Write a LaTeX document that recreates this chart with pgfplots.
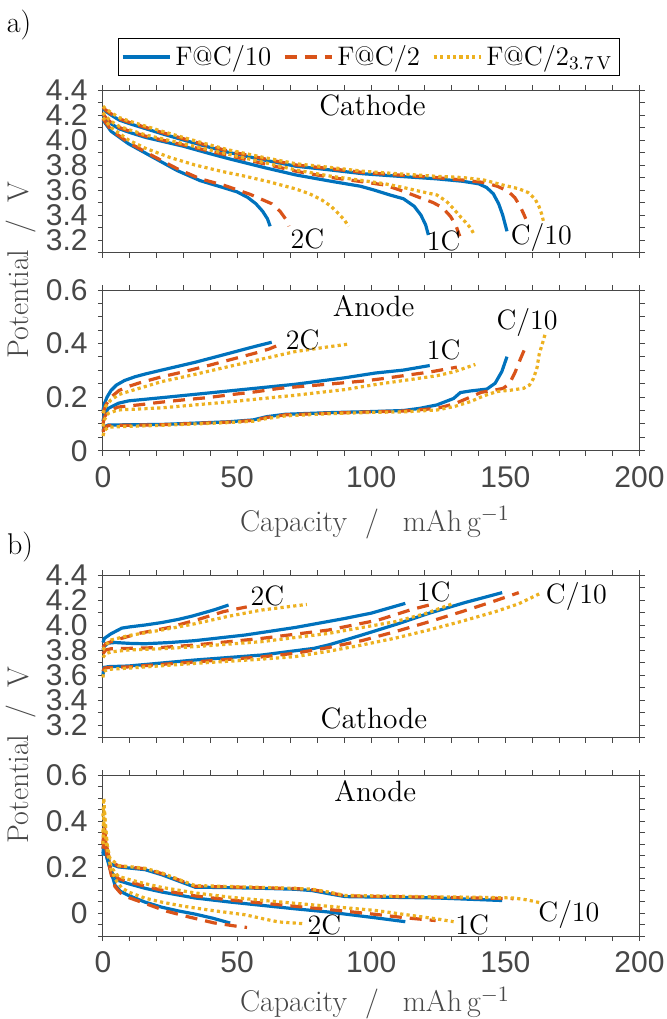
\documentclass[border=0pt]{standalone}
\usepackage{fontspec}
\usepackage{pgfplots}
\pgfplotsset{compat=1.18}
\newfontfamily\tickfont{Liberation Sans}
\definecolor{mblue}{HTML}{0072BD}
\definecolor{morange}{HTML}{D95319}
\definecolor{myellow}{HTML}{EDB120}
\definecolor{axgray}{HTML}{474747}
\newcommand\ann{\fontsize{14}{15}\selectfont}
\newcommand\ttl{\fontsize{14.7}{16}\selectfont}
\newcommand\lab{\fontsize{15}{16}\selectfont}
\pgfplotsset{
  base/.style={
    scale only axis, width=268.25pt, xmin=0, xmax=200, clip=false,
    xtick={0,50,100,150,200}, minor x tick num=4,
    tick align=outside, major tick length=2.5pt, minor tick length=2.5pt,
    axis line style={axgray, line width=0.5pt},
    every tick/.style={axgray, line width=0.5pt},
    tick label style={font=\tickfont\fontsize{15}{15}\selectfont, text=axgray, inner sep=0pt},
    yticklabel style={xshift=-5pt},
    xticklabel style={yshift=-5pt},
  },
  cath/.style={ymin=3.1, ymax=4.4, ytick={3.2,3.4,3.6,3.8,4.0,4.2,4.4},
    yticklabels={3.2,3.4,3.6,3.8,4.0,4.2,4.4},
    minor ytick={3.1,3.3,3.5,3.7,3.9,4.1,4.3}},
  bl/.style={mblue, line width=1.6pt, solid},
  or/.style={morange, line width=1.6pt, dash pattern=on 6pt off 4pt},
  ye/.style={myellow, line width=1.6pt, dash pattern=on 1.6pt off 1.6pt},
}
\begin{document}
\begin{tikzpicture}
\path[use as bounding box] (-51.5pt,45pt) rectangle (281.5pt,-464.5pt);
%================ a) cathode
\begin{axis}[base, cath, name=aC, at={(0pt,0pt)}, anchor=north west, height=81.25pt,
  xticklabels={},
  legend columns=3,
  legend style={at={(0.495,1)}, anchor=south, yshift=7pt, draw=black, line width=0.5pt,
    font=\fontsize{13.4}{14}\selectfont, inner sep=1.5pt,
    /tikz/every even column/.append style={column sep=4pt}},
  legend image code/.code={\draw[#1] (0pt,0pt) -- (23.5pt,0pt);}]
\addplot[bl] coordinates {(0,4.25)(1,4.23)(3,4.20)(6,4.16)(10,4.13)(16,4.09)(22,4.05)(30,4.00)(40,3.94)(47,3.90)(60,3.84)(72,3.79)(85,3.76)(97,3.73)(110,3.71)(124,3.69)(134,3.67)(140,3.65)(143,3.62)(145.5,3.57)(147.5,3.49)(149,3.40)(150.6,3.27)};
\addplot[or] coordinates {(0,4.26)(1,4.24)(3,4.21)(6,4.17)(10,4.14)(16,4.10)(22,4.06)(30,4.01)(40,3.95)(47,3.91)(60,3.85)(72,3.80)(85,3.77)(97,3.74)(110,3.72)(124,3.70)(134,3.68)(142,3.66)(147,3.63)(151,3.59)(153.5,3.54)(155.5,3.47)(157,3.40)(157.6,3.37)};
\addplot[ye] coordinates {(0,4.27)(1,4.25)(3,4.22)(6,4.18)(10,4.15)(16,4.11)(22,4.07)(30,4.02)(40,3.96)(47,3.92)(60,3.86)(72,3.81)(85,3.78)(97,3.75)(110,3.73)(124,3.71)(134,3.70)(142,3.68)(149,3.64)(155,3.61)(158.5,3.58)(161,3.53)(162.5,3.47)(163.5,3.41)(164.2,3.35)};
\legend{F@C/10, F@C/2, F@C/2$_{\mathrm{3.7\,V}}$}
\addplot[bl] coordinates {(0,4.20)(1,4.17)(3,4.13)(6,4.09)(10,4.06)(16,4.02)(22,3.99)(30,3.95)(40,3.89)(47,3.85)(60,3.78)(72,3.72)(85,3.67)(96,3.63)(101,3.60)(107,3.56)(112,3.53)(116,3.47)(118.5,3.40)(120.3,3.32)(121.3,3.24)};
\addplot[or] coordinates {(0,4.21)(1,4.18)(3,4.14)(6,4.10)(10,4.07)(16,4.03)(22,4.00)(30,3.96)(40,3.91)(47,3.875)(60,3.81)(72,3.75)(85,3.70)(97,3.665)(105,3.64)(112,3.59)(118,3.54)(123,3.50)(126.5,3.46)(129.5,3.39)(131.5,3.32)(133,3.23)};
\addplot[ye] coordinates {(0,4.22)(1,4.19)(3,4.15)(6,4.11)(10,4.08)(16,4.04)(22,4.01)(30,3.97)(40,3.92)(47,3.885)(60,3.82)(72,3.76)(85,3.71)(97,3.675)(105,3.65)(112,3.62)(118,3.59)(124.5,3.56)(128,3.51)(130.7,3.45)(133.5,3.38)(135.7,3.33)(137.2,3.29)(138.2,3.25)};
\addplot[bl] coordinates {(0,4.16)(3,4.07)(9.5,3.97)(18.8,3.86)(27.7,3.755)(36.2,3.675)(45.5,3.615)(50,3.585)(54,3.54)(57,3.49)(59.5,3.43)(61.3,3.37)(62.3,3.31)};
\addplot[or] coordinates {(0,4.17)(3,4.08)(9.5,3.98)(18.8,3.87)(27.7,3.77)(36.2,3.69)(45.5,3.635)(54.9,3.565)(62.9,3.49)(66,3.43)(68.7,3.35)(69.3,3.31)};
\addplot[ye] coordinates {(0,4.18)(3,4.10)(9.5,4.0)(15.7,3.935)(25,3.86)(34.3,3.80)(44,3.75)(53,3.71)(62,3.665)(71.6,3.61)(77,3.57)(81.6,3.52)(85,3.47)(87.8,3.41)(90,3.36)(91.5,3.31)};
\node[anchor=base, font=\ttl] at (axis cs:100.5,4.2) {Cathode};
\node[anchor=base, font=\ann] at (axis cs:76.2,3.134) {2C};
\node[anchor=base, font=\ann] at (axis cs:127,3.12) {1C};
\node[anchor=base, font=\ann] at (axis cs:163.4,3.166) {C/10};
\end{axis}
%================ a) anode
\begin{axis}[base, name=aA, at={(0pt,-100pt)}, anchor=north west, height=80.35pt,
  ymin=0, ymax=0.6, ytick={0,0.2,0.4,0.6}, yticklabels={0,0.2,0.4,0.6},
  minor ytick={0.05,0.1,0.15,0.25,0.3,0.35,0.45,0.5,0.55},
  xticklabels={0,50,100,150,200}]
\addplot[bl] coordinates {(0,0.075)(0.5,0.09)(2,0.096)(21.9,0.098)(46.8,0.108)(56,0.115)(61,0.127)(68,0.136)(84,0.142)(99.6,0.146)(112,0.15)(118,0.158)(124.5,0.171)(130.7,0.195)(133.2,0.217)(136.9,0.223)(143.1,0.23)(146.2,0.252)(148.7,0.296)(150.6,0.351)};
\addplot[or] coordinates {(0,0.07)(0.5,0.085)(2,0.094)(21.9,0.097)(46.8,0.107)(56,0.113)(61,0.124)(68,0.134)(84,0.14)(99.6,0.145)(112,0.148)(124.5,0.158)(131,0.175)(136.9,0.2)(141,0.218)(146,0.226)(149.2,0.233)(151.5,0.25)(153.5,0.29)(155.5,0.34)(157.8,0.394)};
\addplot[ye] coordinates {(0,0.055)(0.5,0.075)(2,0.088)(21.9,0.095)(46.8,0.105)(56,0.11)(61,0.12)(68,0.13)(84,0.138)(99.6,0.143)(112,0.145)(124.5,0.152)(131,0.165)(136.9,0.183)(142,0.205)(146.9,0.221)(152,0.226)(156.8,0.233)(159,0.245)(160.5,0.27)(161.8,0.31)(162.6,0.36)(163.8,0.4)(164.9,0.438)};
\addplot[bl] coordinates {(0,0.11)(0.5,0.135)(2,0.158)(5.7,0.177)(9.5,0.186)(21.9,0.198)(46.8,0.223)(71.6,0.248)(90,0.272)(101.5,0.29)(112,0.301)(121.8,0.318)};
\addplot[or] coordinates {(0,0.1)(0.5,0.125)(2,0.148)(5.7,0.163)(13.2,0.171)(21.5,0.181)(30.2,0.19)(38.9,0.198)(48.3,0.21)(57,0.22)(66,0.233)(80,0.245)(97,0.26)(105,0.27)(114,0.283)(122,0.294)(131.9,0.312)};
\addplot[ye] coordinates {(0,0.09)(0.5,0.115)(2,0.14)(5.7,0.152)(21.9,0.16)(46.8,0.182)(71.6,0.207)(90,0.228)(101.5,0.247)(112,0.262)(124.5,0.28)(131,0.295)(138.8,0.322)};
\addplot[bl] coordinates {(0,0.15)(0.5,0.175)(1.5,0.2)(3,0.225)(5,0.245)(8,0.262)(11.9,0.276)(16,0.287)(21.9,0.301)(34.3,0.33)(46.8,0.363)(55,0.385)(62.9,0.405)};
\addplot[or] coordinates {(0,0.14)(1,0.17)(3,0.2)(6,0.225)(9.5,0.24)(13.2,0.252)(21.5,0.275)(30.2,0.295)(38.9,0.317)(48.3,0.342)(57,0.365)(62,0.38)(66,0.397)};
\addplot[ye] coordinates {(0,0.14)(1,0.165)(3,0.19)(6,0.21)(9.5,0.221)(21.9,0.258)(34.3,0.285)(46.8,0.314)(59.2,0.342)(71.6,0.37)(84.1,0.388)(91.5,0.398)};
\node[anchor=base, font=\ttl] at (axis cs:100.9,0.5) {Anode};
\node[anchor=base, font=\ann] at (axis cs:74.4,0.376) {2C};
\node[anchor=base, font=\ann] at (axis cs:127,0.339) {1C};
\node[anchor=base, font=\ann] at (axis cs:158.1,0.451) {C/10};
\end{axis}
%================ b) cathode
\begin{axis}[base, cath, name=bC, at={(0pt,-242.5pt)}, anchor=north west, height=81.25pt,
  xticklabels={}]
\addplot[bl] coordinates {(0,3.60)(0.3,3.66)(2,3.667)(9.5,3.672)(34.3,3.72)(59.2,3.76)(78.6,3.813)(84,3.84)(90.3,3.88)(96.5,3.92)(110,4.01)(121.4,4.093)(135,4.18)(148.8,4.259)};
\addplot[or] coordinates {(0,3.63)(0.5,3.655)(2,3.66)(9.5,3.665)(34.3,3.705)(59.2,3.745)(72,3.775)(84.1,3.82)(96.5,3.875)(109,3.947)(121.4,4.025)(133.8,4.107)(145,4.185)(155,4.259)};
\addplot[ye] coordinates {(0,3.58)(0.3,3.63)(2,3.645)(9.5,3.655)(34.3,3.693)(59.2,3.727)(71.6,3.747)(84.1,3.79)(96.5,3.84)(109,3.895)(121.4,3.96)(133.8,4.03)(146.3,4.107)(155,4.17)(163,4.253)};
\addplot[bl] coordinates {(0,3.80)(0.5,3.83)(2,3.855)(4.5,3.86)(10,3.853)(15.7,3.85)(25,3.86)(34.3,3.875)(53,3.92)(71.6,3.98)(90.3,4.053)(100,4.095)(112.7,4.173)};
\addplot[or] coordinates {(0,3.77)(1,3.8)(3,3.81)(9.5,3.813)(21.9,3.82)(34.3,3.84)(59.2,3.893)(84.1,3.96)(102.7,4.04)(115.2,4.125)(124,4.173)};
\addplot[ye] coordinates {(0,3.74)(1,3.77)(3,3.785)(9.5,3.8)(21.9,3.81)(34.3,3.827)(59.2,3.867)(84.1,3.933)(109,4.027)(120,4.09)(130.7,4.173)};
\addplot[bl] coordinates {(0,3.86)(0.5,3.893)(3,3.93)(7,3.975)(10,3.985)(15.7,4.0)(22,4.02)(28.1,4.045)(33,4.07)(38,4.1)(42,4.125)(46.8,4.16)};
\addplot[or] coordinates {(0,3.82)(1,3.85)(4.7,3.88)(13.4,3.933)(24.4,3.979)(35.6,4.045)(44.9,4.107)(53.6,4.145)};
\addplot[ye] coordinates {(0,3.8)(1,3.84)(3,3.88)(9.5,3.915)(21.9,3.96)(34.3,4.01)(46.8,4.07)(59.2,4.12)(76,4.165)};
\node[anchor=base, font=\ttl] at (axis cs:101,3.174) {Cathode};
\node[anchor=base, font=\ann] at (axis cs:61.3,4.16) {2C};
\node[anchor=base, font=\ann] at (axis cs:123.3,4.187) {1C};
\node[anchor=base, font=\ann] at (axis cs:176.5,4.17) {C/10};
\end{axis}
%================ b) anode
\begin{axis}[base, name=bA, at={(0pt,-342.5pt)}, anchor=north west, height=80.6pt,
  ymin=-0.1, ymax=0.6, ytick={0,0.2,0.4,0.6}, yticklabels={0,0.2,0.4,0.6},
  minor ytick={-0.1,-0.05,0.05,0.1,0.15,0.25,0.3,0.35,0.45,0.5,0.55},
  xticklabels={0,50,100,150,200}]
\addplot[bl] coordinates {(0,0.26)(0.5,0.32)(1.2,0.27)(2.5,0.215)(5.7,0.201)(15.7,0.189)(21.9,0.167)(28.1,0.14)(34.3,0.113)(46.8,0.111)(59.2,0.108)(71.6,0.104)(78,0.098)(84,0.085)(90.3,0.072)(101.5,0.07)(124.5,0.066)(148.8,0.055)};
\addplot[or] coordinates {(0,0.3)(0.5,0.38)(1.2,0.3)(2.5,0.23)(5.7,0.205)(15.7,0.193)(21.9,0.172)(28.1,0.145)(34.3,0.117)(46.8,0.114)(59.2,0.11)(71.6,0.107)(78,0.102)(84,0.09)(90.3,0.075)(101.5,0.073)(124.5,0.069)(140,0.066)(153,0.063)};
\addplot[ye] coordinates {(0,0.42)(0.3,0.5)(0.8,0.4)(1.5,0.3)(2.5,0.24)(5.7,0.207)(15.7,0.195)(21.9,0.175)(28.1,0.147)(34.3,0.12)(46.8,0.116)(59.2,0.112)(71.6,0.108)(78,0.104)(84,0.092)(90.3,0.077)(101.5,0.075)(124.5,0.071)(140,0.069)(153,0.066)(158,0.058)(163.1,0.045)};
\addplot[bl] coordinates {(0,0.28)(0.5,0.31)(1.5,0.24)(3,0.18)(5.7,0.142)(9.5,0.128)(15.7,0.108)(21.9,0.092)(34.3,0.066)(46.8,0.049)(59.2,0.034)(71.6,0.019)(84.1,0.005)(101.5,-0.02)(112.7,-0.037)};
\addplot[or] coordinates {(0,0.3)(0.5,0.36)(1.5,0.26)(3,0.19)(5.7,0.15)(9.5,0.137)(15.7,0.117)(21.9,0.1)(34.3,0.075)(46.8,0.058)(59.2,0.044)(71.6,0.03)(84.1,0.016)(101.5,-0.005)(112.7,-0.02)(124,-0.032)};
\addplot[ye] coordinates {(0,0.35)(0.4,0.45)(1.5,0.3)(3,0.2)(5.7,0.16)(9.5,0.147)(15.7,0.128)(21.9,0.112)(34.3,0.088)(46.8,0.07)(59.2,0.056)(71.6,0.043)(84.1,0.03)(101.5,0.012)(112,-0.005)(124.5,-0.025)(130.7,-0.037)};
\addplot[bl] coordinates {(0,0.25)(0.5,0.29)(1.5,0.24)(3,0.18)(4.5,0.121)(6.5,0.095)(9.5,0.077)(15.7,0.048)(21.9,0.026)(28,0.01)(34.3,-0.004)(41,-0.022)(47.4,-0.043)};
\addplot[or] coordinates {(0,0.28)(0.5,0.33)(1.5,0.25)(3,0.17)(4.5,0.115)(6.5,0.088)(9.5,0.068)(15.3,0.044)(23.6,0.009)(32.2,-0.017)(41.3,-0.042)(50.6,-0.058)(53.7,-0.062)};
\addplot[ye] coordinates {(0,0.3)(0.3,0.4)(1.5,0.28)(3,0.19)(5,0.14)(7,0.11)(9.5,0.092)(15.7,0.065)(21.9,0.048)(30,0.03)(40.5,0.012)(53,-0.007)(60,-0.025)(65.4,-0.038)(75.4,-0.046)};
\node[anchor=base, font=\ttl] at (axis cs:101.5,0.485) {Anode};
\node[anchor=base, font=\ann] at (axis cs:82.5,-0.092) {2C};
\node[anchor=base, font=\ann] at (axis cs:137.6,-0.092) {1C};
\node[anchor=base, font=\ann] at (axis cs:173.7,-0.038) {C/10};
\end{axis}
%================ labels
\node[rotate=90, font=\lab, text=axgray, inner sep=0pt] at (-41pt,-90pt) {Potential\hspace{0.55em}/\hspace{0.55em}V};
\node[rotate=90, font=\lab, text=axgray, inner sep=0pt] at (-41pt,-332.5pt) {Potential\hspace{0.55em}/\hspace{0.55em}V};
\node[anchor=base, font=\lab, text=axgray] at (136pt,-220.5pt) {Capacity\hspace{0.6em}/\hspace{0.8em}mAh\,g$^{-1}$};
\node[anchor=base, font=\lab, text=axgray] at (136pt,-460.75pt) {Capacity\hspace{0.6em}/\hspace{0.8em}mAh\,g$^{-1}$};
\node[font=\lab] at (-42pt,32.5pt) {a)};
\node[font=\lab] at (-41.5pt,-228.5pt) {b)};
\end{tikzpicture}
\end{document}
